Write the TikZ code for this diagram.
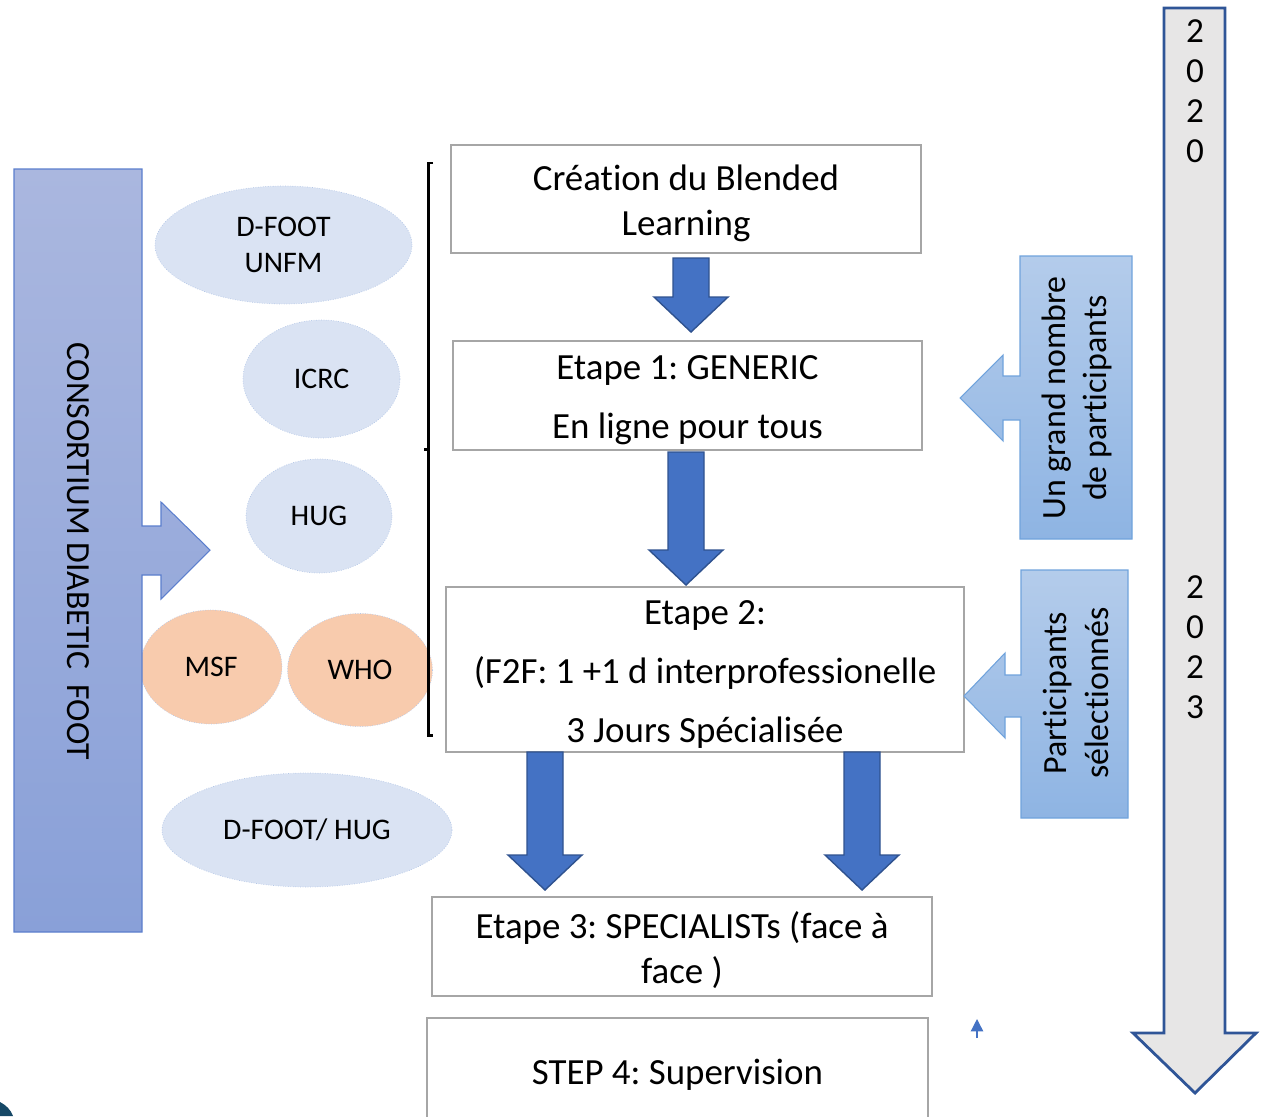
\documentclass[tikz,border=0pt]{standalone}
\usepackage{fontspec}
\setmainfont{Carlito}[Ligatures=NoCommon]
\usetikzlibrary{shapes.geometric,arrows.meta}
\frenchspacing

\definecolor{consTop}{RGB}{170,183,223}
\definecolor{consBot}{RGB}{137,160,216}
\definecolor{consLine}{RGB}{91,126,205}
\definecolor{orgBlue}{RGB}{218,227,243}
\definecolor{orgLine}{RGB}{180,199,231}
\definecolor{orgPeach}{RGB}{248,203,173}
\definecolor{stepGray}{RGB}{166,166,166}
\definecolor{flowBlue}{RGB}{68,114,196}
\definecolor{flowLine}{RGB}{47,82,143}
\definecolor{calloutTop}{RGB}{180,204,235}
\definecolor{calloutBot}{RGB}{142,180,227}
\definecolor{calloutLine}{RGB}{112,163,220}
\definecolor{timeFill}{RGB}{231,230,230}
\definecolor{timeLine}{RGB}{47,85,151}
\definecolor{cornerTeal}{RGB}{22,72,102}

% pushes the first line of a step box down a little
\newcommand{\stepstrut}{\rule{0pt}{19.5pt}}

\tikzset{
  stepbox/.style={draw=stepGray, line width=1.2pt, fill=white, align=center, inner sep=0pt,
    font=\fontsize{21}{26}\selectfont},
  steptall/.style={stepbox, font=\fontsize{21}{33.6}\selectfont},
  org/.style={ellipse, draw=orgLine, densely dotted, fill=orgBlue, inner sep=0pt, align=center,
    font=\fontsize{17}{20.5}\selectfont},
  orgpeach/.style={org, fill=orgPeach},
  flowarrow/.style={fill=flowBlue, draw=flowLine, line width=0.8pt},
  callout/.style={top color=calloutTop, bottom color=calloutBot, draw=calloutLine, line width=0.6pt},
  callouttext/.style={rotate=90, align=center, font=\fontsize{19.3}{23.5}\selectfont},
  timeline/.style={fill=timeFill, draw=timeLine, line width=1.6pt},
  yeartext/.style={align=center, font=\fontsize{20}{22.8}\selectfont},
}

% block arrow pointing down: centre x, top y, tip y (pixel units)
\newcommand{\blockdown}[3]{%
  \draw[flowarrow] (#1-18,#2) -- (#1+18,#2) -- (#1+18,#3-35) -- (#1+37,#3-35)
    -- (#1,#3) -- (#1-37,#3-35) -- (#1-18,#3-35) -- cycle;
}

\begin{document}
\begin{tikzpicture}[x=0.02cm, y=-0.02cm]
  \useasboundingbox (0,0) rectangle (1263,1116);

  % partners
  \node[org, minimum width=5.14cm, minimum height=2.36cm] (dfoot) at (283.5,245) {D-FOOT\\UNFM};
  \node[org, minimum width=3.14cm, minimum height=2.36cm] (icrc) at (321.5,379) {ICRC};
  \node[org, minimum width=2.92cm, minimum height=2.28cm] (hug) at (319,516) {HUG};
  \node[orgpeach, minimum width=2.84cm, minimum height=2.28cm] (msf) at (211,667) {MSF};
  \node[orgpeach, minimum width=2.9cm, minimum height=2.26cm] (who) at (360,670) {WHO};
  \node[org, minimum width=5.8cm, minimum height=2.28cm] (dfoothug) at (307,830) {D-FOOT/ HUG};

  % consortium bar with its arrow
  \draw[top color=consTop, bottom color=consBot, draw=consLine, line width=0.6pt]
    (14,169) -- (142,169) -- (142,526) -- (161,526) -- (161,502) -- (210,550)
    -- (161,599) -- (161,575) -- (142,575) -- (142,932) -- (14,932) -- cycle;
  \node[rotate=-90, font=\fontsize{19.2}{24}\selectfont] (consortium) at (78,551) {CONSORTIUM DIABETIC\ \ FOOT};

  % bracket
  \draw[line width=1.7pt] (433,163) -- (428,163) -- (428,449) -- (424,449) -- (428,449)
    -- (428,735) -- (433,735);

  % steps
  \node[stepbox, minimum width=9.4cm, minimum height=2.16cm] (blended) at (686,199) {\stepstrut Création du Blended\\Learning};
  \node[steptall, minimum width=9.38cm, minimum height=2.18cm] (etape1) at (687.5,395.5) {\stepstrut Etape 1: GENERIC\\En ligne pour tous};
  \node[steptall, minimum width=10.36cm, minimum height=3.3cm] (etape2) at (705,669.5) {\stepstrut Etape 2:\\(F2F: 1 +1 d interprofessionelle\\3 Jours Spécialisée};
  \node[stepbox, minimum width=10cm, minimum height=1.98cm] (etape3) at (682,946.5) {\stepstrut Etape 3: SPECIALISTs (face à\\face )};
  \node[stepbox, minimum width=10.02cm, minimum height=2.08cm] (step4) at (677.5,1070) {\stepstrut STEP 4: Supervision};

  \blockdown{691}{258}{332}
  \blockdown{686}{452}{585}
  \blockdown{545}{752}{890}
  \blockdown{862}{752}{890}

  % participant callouts
  \draw[callout] (1020,256) -- (1132,256) -- (1132,539) -- (1020,539) -- (1020,420) -- (1003,420)
    -- (1003,441) -- (960,398) -- (1003,355) -- (1003,376) -- (1020,376) -- cycle;
  \node[callouttext] (nombre) at (1077,398) {Un grand nombre\\de participants};
  \draw[callout] (1021,570) -- (1128,570) -- (1128,818) -- (1021,818) -- (1021,717) -- (1005,717)
    -- (1005,738) -- (964,696) -- (1005,653) -- (1005,675) -- (1021,675) -- cycle;
  \node[callouttext] (selection) at (1076,693) {Participants\\sélectionnés};

  % timeline
  \draw[timeline] (1164,8) -- (1225,8) -- (1225,1033) -- (1256,1033) -- (1195,1093)
    -- (1133,1033) -- (1164,1033) -- cycle;
  \node[yeartext] (y2020) at (1195,91) {2\\0\\2\\0};
  \node[yeartext] (y2023) at (1195,647) {2\\0\\2\\3};

  % stray small arrow
  \coordinate (tinyfoot) at (977,1038);
  \coordinate (tinyhead) at (977,1019);
  \draw[flowBlue, line width=0.8pt, -{Triangle[length=7pt,width=7pt]}] (tinyfoot) -- (tinyhead);

  % cut-off picture corner
  \fill[cornerTeal] (0,1102) .. controls (6,1105) and (11,1110) .. (13,1116) -- (0,1116) -- cycle;
\end{tikzpicture}
\end{document}
